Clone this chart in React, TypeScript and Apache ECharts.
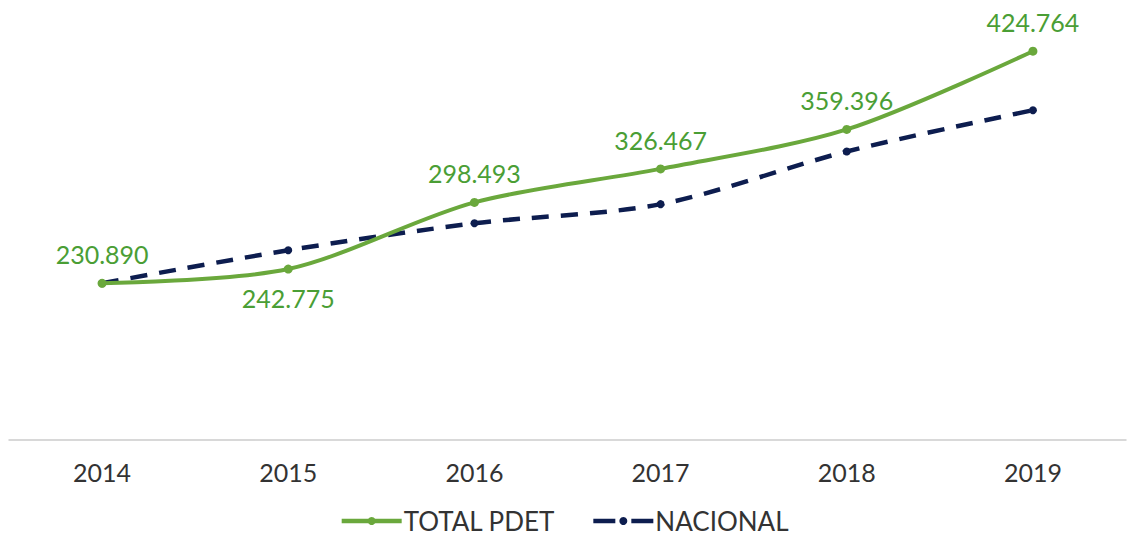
import React, { useEffect, useRef } from "react";
import * as echarts from "echarts";

const years = ["2014", "2015", "2016", "2017", "2018", "2019"];
const totalPdet = [230890, 242775, 298493, 326467, 359396, 424764];
const nacional = [230890, 258500, 281000, 297000, 341000, 375500];
const labelPositions = ["top", "bottom", "top", "top", "top", "top"];

const fmt = (v: number) => {
  const s = String(Math.round(v));
  return s.replace(/\B(?=(\d{3})+(?!\d))/g, ".");
};

export default function App() {
  const ref = useRef<HTMLDivElement>(null);
  useEffect(() => {
    if (!ref.current) return;
    const chart = echarts.init(ref.current, undefined, { renderer: "svg" });
    const font = "Lato";
    chart.setOption({
      animation: false,
      grid: { left: 9, right: 2, top: 21, bottom: 97, containLabel: false },
      xAxis: {
        type: "category",
        data: years,
        boundaryGap: true,
        axisLine: { show: true, lineStyle: { color: "#cccccc", width: 1.5 } },
        axisTick: { show: false },
        axisLabel: { color: "#333333", fontSize: 25, fontFamily: font, margin: 19 },
      },
      yAxis: {
        type: "value",
        min: 100000,
        max: 450000,
        show: false,
        splitLine: { show: false },
      },
      legend: {
        top: 503,
        left: "center",
        itemWidth: 60,
        itemHeight: 10,
        itemGap: 36,
        textStyle: { color: "#333333", fontSize: 26, fontFamily: font, padding: [0, 0, 0, -3] },
        data: [
          { name: "TOTAL PDET", lineStyle: { width: 4.5 } },
          { name: "NACIONAL", lineStyle: { type: [22, 16], width: 4.5 } },
        ],
      },
      series: [
        {
          name: "NACIONAL",
          type: "line",
          data: nacional,
          smooth: 0.3,
          symbol: "circle",
          symbolSize: 8,
          itemStyle: { color: "#0d1d4f" },
          lineStyle: { color: "#0d1d4f", width: 4.5, type: [17, 12] },
          z: 2,
        },
        {
          name: "TOTAL PDET",
          type: "line",
          data: totalPdet.map((v, i) => ({
            value: v,
            label: { position: labelPositions[i] },
          })),
          smooth: 0.3,
          symbol: "circle",
          symbolSize: 9,
          itemStyle: { color: "#6aa83c" },
          lineStyle: { color: "#6aa83c", width: 4 },
          label: {
            show: true,
            color: "#4a9e35",
            fontSize: 25,
            fontFamily: font,
            distance: 12,
            formatter: (p: any) => fmt(p.value),
          },
          z: 3,
        },
      ],
    });
    return () => chart.dispose();
  }, []);
  return (
    <div
      ref={ref}
      style={{ position: "absolute", left: 0, top: 0, width: 1128, height: 537 }}
    />
  );
}
